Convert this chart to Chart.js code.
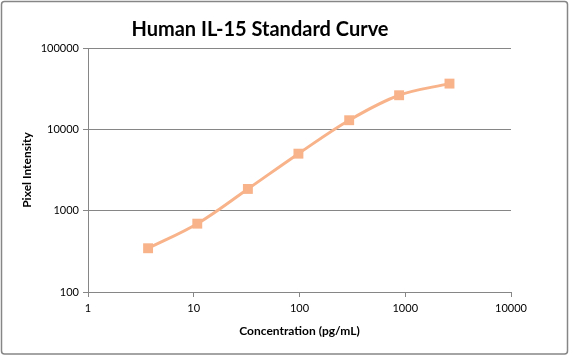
<!DOCTYPE html>
<html>
<head>
<meta charset="utf-8">
<script src="https://cdn.jsdelivr.net/npm/chart.js@4.4.1/dist/chart.umd.min.js"></script>
<style>
    html, body { margin: 0; padding: 0; background: #fff; }
    #wrap { width: 570px; height: 362px; position: relative; }
</style>
</head>
<body>
<div id="wrap"><canvas id="myChart" width="570" height="362"></canvas></div>
<script>
// standard curve readings
const concentration = [3.7, 10.8, 32.5, 97.7, 295, 875, 2620]
const intensity = [345, 692, 1850, 5020, 12940, 26240, 36500]

const xTicks = [1, 10, 100, 1000, 10000]
const yTicks = [100, 1000, 10000, 100000]

const lineColor = '#F8B38A'
const axisGray = '#868686'
const font = 'Lato, "Open Sans", sans-serif'

const points = concentration.map((c, i) => ({ x: c, y: intensity[i] }))

// outer chart-area frame like the spreadsheet export
const frame = {
    id: 'frame',
    afterDraw(chart) {
        const ctx = chart.ctx
        ctx.save()
        ctx.strokeStyle = axisGray
        ctx.lineWidth = 1.5
        ctx.beginPath()
        ctx.roundRect(1.5, 1.5, 566, 352.5, 3)
        ctx.stroke()
        ctx.restore()
    }
}

new Chart(document.getElementById('myChart'), {
    type: 'scatter',
    data: {
        datasets: [{
            data: points,
            showLine: true,
            borderColor: lineColor,
            borderWidth: 3,
            tension: 0.35,
            pointStyle: 'rect',
            pointRadius: 7,
            pointBackgroundColor: lineColor,
            pointBorderColor: lineColor,
            pointBorderWidth: 0
        }]
    },
    options: {
        responsive: false,
        animation: false,
        layout: { padding: { left: 9, right: 59, top: 0, bottom: 0 } },
        plugins: {
            legend: { display: false },
            tooltip: { enabled: false },
            title: {
                display: true,
                text: 'Human IL-15 Standard Curve',
                color: '#000',
                font: { family: font, size: 20, weight: 'bold', lineHeight: 1.2 },
                padding: { top: 18, bottom: 6 }
            }
        },
        scales: {
            x: {
                type: 'logarithmic',
                min: 1,
                max: 10000,
                afterBuildTicks: scale => { scale.ticks = xTicks.map(v => ({ value: v })) },
                afterFit: scale => { scale.height = 70 },
                ticks: {
                    color: '#000',
                    font: { family: font, size: 11 },
                    padding: 5,
                    maxRotation: 0,
                    callback: v => String(v)
                },
                grid: { drawOnChartArea: false, drawTicks: true, tickLength: 5, color: axisGray },
                border: { display: true, color: axisGray, width: 1 },
                title: {
                    display: true,
                    text: 'Concentration (pg/mL)',
                    color: '#000',
                    font: { family: font, size: 12, weight: 'bold', lineHeight: 1.2 },
                    padding: { top: 0, bottom: 24 }
                }
            },
            y: {
                type: 'logarithmic',
                min: 100,
                max: 100000,
                afterBuildTicks: scale => { scale.ticks = yTicks.map(v => ({ value: v })) },
                afterFit: scale => { scale.width = 79 },
                ticks: {
                    color: '#000',
                    font: { family: font, size: 11 },
                    padding: 4,
                    callback: v => String(v)
                },
                grid: { color: axisGray, tickLength: 5, drawTicks: true },
                border: { display: true, color: axisGray, width: 1 },
                title: {
                    display: true,
                    text: 'Pixel Intensity',
                    color: '#000',
                    font: { family: font, size: 12, weight: 'bold', lineHeight: 1.2 },
                    padding: { top: 11, bottom: 0 }
                }
            }
        }
    },
    plugins: [frame]
})
</script>
</body>
</html>
